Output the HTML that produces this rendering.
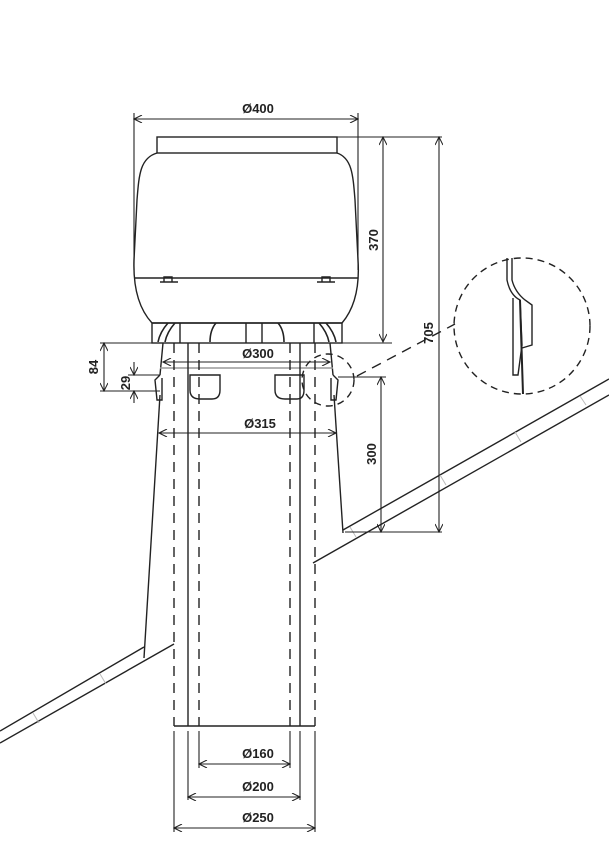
<!DOCTYPE html>
<html><head><style>body{margin:0;background:#fff}svg{display:block}text{font-family:"Liberation Sans",sans-serif;font-weight:bold;font-size:13px;fill:#222}</style></head><body>
<svg width="609" height="862" viewBox="0 0 609 862" xmlns="http://www.w3.org/2000/svg">
<defs><marker id="a" viewBox="0 0 10 10" refX="10" refY="5" markerWidth="10" markerHeight="8" orient="auto-start-reverse" markerUnits="userSpaceOnUse"><path d="M0,0 L10,5 L0,10" fill="none" stroke="#222" stroke-width="1.3"/></marker></defs>
<g stroke="#222" stroke-width="1.4" fill="none">
<!-- cap -->
<rect x="157" y="137" width="180" height="16"/>
<path d="M157,153 C140,158 139,175 137,200 L134,260 C133,290 140,310 152,323 L342,323 C353,310 360,290 358,260 L355,200 C353,175 352,158 337,153"/>
<line x1="135" y1="278" x2="358" y2="278"/>
<path d="M160,282 h18 M164,282 v-5 h8 v5 M317,282 h18 M322,282 v-5 h8 v5"/>
<rect x="152" y="323" width="190" height="20"/>
<path d="M180,323 v20 M246,323 v20 M262,323 v20 M314,323 v20"/>
<path d="M158,342 q2,-10 10,-19 M165,342 q2,-10 10,-19 M210,342 q0,-12 6,-19 M284,342 q0,-12 -6,-19 M329,342 q-2,-10 -10,-19 M336,342 q-2,-10 -10,-19" stroke-width="1.6"/>
<!-- collar -->
<path d="M163,343 L160,375 M330,343 L333,375"/>
<path d="M160,375 L155,380 L157,400 L162,400 L162,378 M333,375 L338,380 L336,400 L331,400 L331,378"/>
<line x1="160" y1="368" x2="333" y2="368" stroke="#999"/>
<path d="M190,375 V390 Q190,399 200,399 H212 Q220,399 220,390 V375 Z M275,375 V390 Q275,399 285,399 H297 Q304,399 304,390 V375 Z"/>
<!-- flashing -->
<path d="M160,395 L144,658 M334,395 L343,533"/>
<!-- pipes -->
<line x1="188" y1="343" x2="188" y2="726"/><line x1="300" y1="343" x2="300" y2="726"/>
<g stroke-dasharray="10,7"><line x1="174" y1="343" x2="174" y2="726"/><line x1="199" y1="343" x2="199" y2="726"/><line x1="290" y1="343" x2="290" y2="726"/><line x1="315" y1="343" x2="315" y2="726"/></g>
<line x1="174" y1="726" x2="315" y2="726"/>
<!-- roof -->
<line x1="0" y1="731" x2="144" y2="647"/><line x1="0" y1="743" x2="174" y2="644"/>
<line x1="343" y1="530" x2="609" y2="379"/><line x1="313" y1="563" x2="609" y2="395"/>
<g stroke="#bbb" stroke-width="1"><path d="M33,713 l6,10 M100,674 l6,10 M440,475 l6,10 M515,432 l6,10 M580,396 l6,9 M350,527 l6,10"/></g>
<!-- detail -->
<circle cx="328" cy="380" r="26" stroke-dasharray="7,5"/>
<line x1="357" y1="376" x2="455" y2="324" stroke-dasharray="10,7"/>
<circle cx="522" cy="326" r="68" stroke-dasharray="7,5"/>
<path d="M507,258 V280 Q510,295 520,300 L522,345 L518,375 L513,375 L513,298 M512,258 V280 Q515,292 525,300 L532,305 L532,345 L522,348"/>
<line x1="520" y1="300" x2="523" y2="394" stroke-width="2"/>
<!-- dimensions -->
<g stroke-width="1.1">
<path d="M134,113 V270 M358,113 V270"/>
<line x1="134" y1="119" x2="358" y2="119" marker-start="url(#a)" marker-end="url(#a)"/>
<path d="M337,137 H392 M342,343 H392"/>
<line x1="383" y1="137" x2="383" y2="342" marker-start="url(#a)" marker-end="url(#a)"/>
<path d="M360,137 H442 M345,532 H442"/>
<line x1="439" y1="137" x2="439" y2="532" marker-start="url(#a)" marker-end="url(#a)"/>
<path d="M338,377 H386"/>
<line x1="381" y1="377" x2="381" y2="532" marker-start="url(#a)" marker-end="url(#a)"/>
<path d="M100,343 H155 M128,375 H160 M100,391 H160"/>
<line x1="104" y1="343" x2="104" y2="391" marker-start="url(#a)" marker-end="url(#a)"/>
<line x1="134" y1="362" x2="134" y2="375" marker-end="url(#a)"/>
<line x1="134" y1="403" x2="134" y2="391" marker-end="url(#a)"/>
<line x1="163" y1="362" x2="330" y2="362" marker-start="url(#a)" marker-end="url(#a)"/>
<line x1="159" y1="433" x2="336" y2="433" marker-start="url(#a)" marker-end="url(#a)"/>
<path d="M174,731 V832 M188,731 V800 M199,731 V768 M290,731 V768 M300,731 V800 M315,731 V832"/>
<line x1="199" y1="764" x2="290" y2="764" marker-start="url(#a)" marker-end="url(#a)"/>
<line x1="188" y1="797" x2="300" y2="797" marker-start="url(#a)" marker-end="url(#a)"/>
<line x1="174" y1="828" x2="315" y2="828" marker-start="url(#a)" marker-end="url(#a)"/>
</g>
</g>
<text x="258" y="113" text-anchor="middle">Ø400</text>
<text x="258" y="358" text-anchor="middle">Ø300</text>
<text x="260" y="428" text-anchor="middle">Ø315</text>
<text x="258" y="758" text-anchor="middle">Ø160</text>
<text x="258" y="791" text-anchor="middle">Ø200</text>
<text x="258" y="822" text-anchor="middle">Ø250</text>
<text transform="translate(378,240) rotate(-90)" text-anchor="middle">370</text>
<text transform="translate(433,333) rotate(-90)" text-anchor="middle">705</text>
<text transform="translate(376,454) rotate(-90)" text-anchor="middle">300</text>
<text transform="translate(98,367) rotate(-90)" text-anchor="middle">84</text>
<text transform="translate(130,383) rotate(-90)" text-anchor="middle">29</text>
</svg>
</body></html>
